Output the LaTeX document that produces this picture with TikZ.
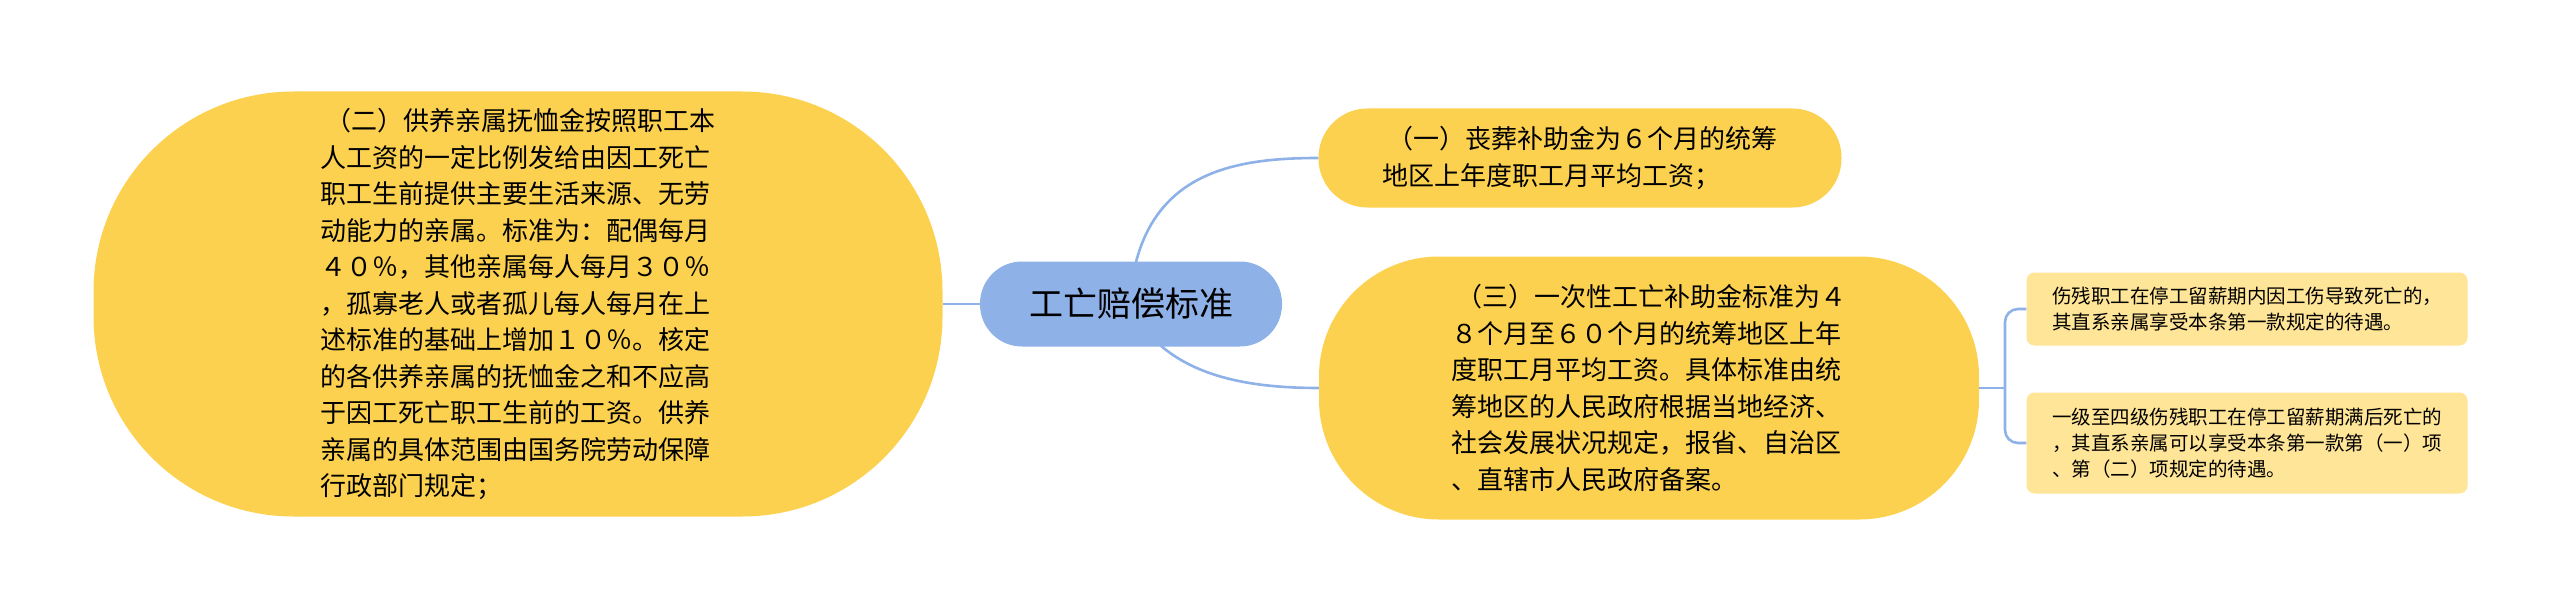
\documentclass[tikz,border=0pt]{standalone}
\usepackage{fontspec}
\newfontfamily\cjk{Noto Sans CJK SC}
\usetikzlibrary{positioning,calc}
\definecolor{topicyellow}{HTML}{FCD150}
\definecolor{leafyellow}{HTML}{FFE597}
\definecolor{rootblue}{HTML}{8EB1E8}
\tikzset{
  topic/.style={fill=topicyellow,align=left,inner sep=0pt,font=\cjk\fontsize{26}{36.5}\selectfont},
  leaf/.style={fill=leafyellow,rounded corners=8pt,align=left,inner sep=0pt,font=\cjk\fontsize{19.5}{26}\selectfont},
  link/.style={draw=rootblue,line width=2.6pt}
}
\begin{document}
\begin{tikzpicture}[x=1pt,y=-1pt]
  \useasboundingbox (0,0) rectangle (2560,607);

  % root
  \node (root) [fill=rootblue,rounded corners=42pt,minimum width=302pt,minimum height=85pt,
    font=\cjk\fontsize{34}{40}\selectfont] at (1131,304) {工亡赔偿标准};

  % topics
  \node (two) [topic,rounded corners=200pt,minimum width=849pt,minimum height=425pt] at (518,304)
  {\ （二）供养亲属抚恤金按照职工本\\人工资的一定比例发给由因工死亡\\职工生前提供主要生活来源、无劳\\动能力的亲属。标准为：配偶每月\\４０％，其他亲属每人每月３０％\\，孤寡老人或者孤儿每人每月在上\\述标准的基础上增加１０％。核定\\的各供养亲属的抚恤金之和不应高\\于因工死亡职工生前的工资。供养\\亲属的具体范围由国务院劳动保障\\行政部门规定；};
  \node (one) [topic,rounded corners=49pt,minimum width=523pt,minimum height=99pt] at (1580,158)
  {\ （一）丧葬补助金为６个月的统筹\\地区上年度职工月平均工资；};
  \node (three) [topic,rounded corners=120pt,minimum width=660pt,minimum height=263pt] at (1649,388)
  {\ （三）一次性工亡补助金标准为４\\８个月至６０个月的统筹地区上年\\度职工月平均工资。具体标准由统\\筹地区的人民政府根据当地经济、\\社会发展状况规定，报省、自治区\\、直辖市人民政府备案。};

  % leaves
  \node (l1) [leaf,minimum width=441pt,minimum height=73pt] at (2247,309)
  {伤残职工在停工留薪期内因工伤导致死亡的，\\其直系亲属享受本条第一款规定的待遇。};
  \node (l2) [leaf,minimum width=441pt,minimum height=101pt] at (2247,443)
  {一级至四级伤残职工在停工留薪期满后死亡的\\，其直系亲属可以享受本条第一款第（一）项\\、第（二）项规定的待遇。};

  % connectors
  \draw[link] (root.west) -- (two.east);
  \draw[link] (1136,262) .. controls (1160,170) and (1240,158) .. (one.west);
  \draw[link] (1160,345) .. controls (1200,380) and (1260,388) .. (three.west);
  \draw[link] (three.east) -- (2005,388);
  \draw[link] (l1.west) -- (2018,309) to[out=180,in=90] (2005,322) -- (2005,430) to[out=-90,in=180] (2018,443) -- (l2.west);
\end{tikzpicture}
\end{document}
